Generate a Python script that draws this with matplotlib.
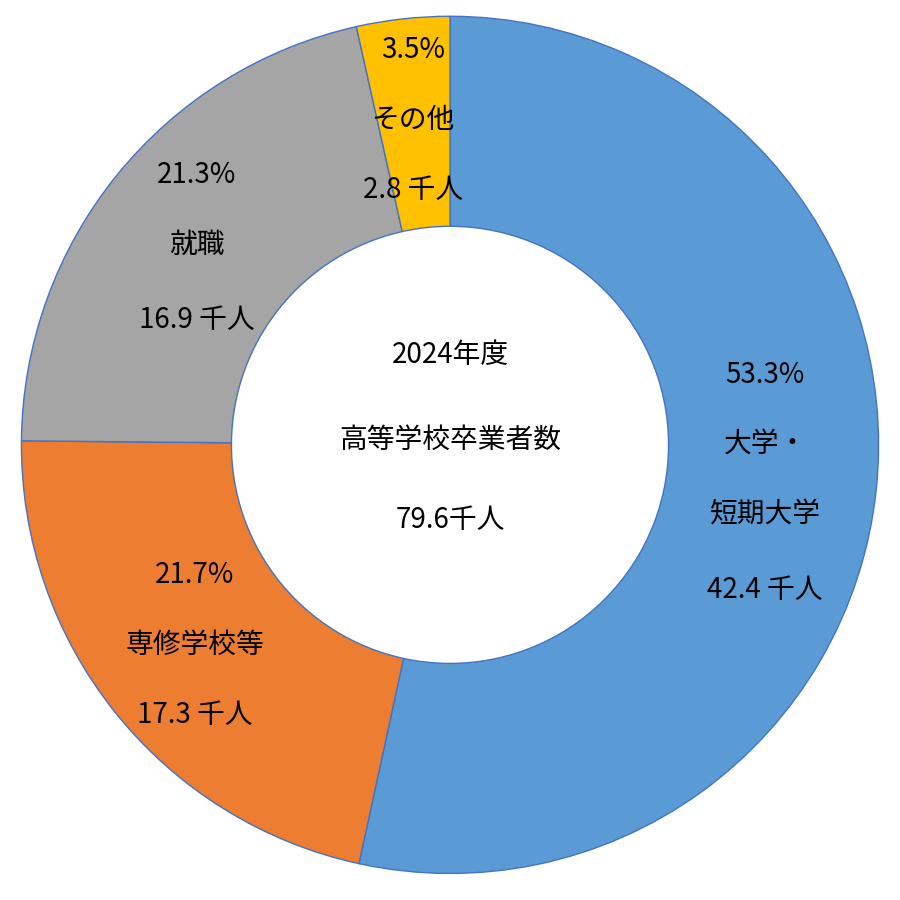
import matplotlib
matplotlib.use("Agg")
import matplotlib.pyplot as plt

plt.rcParams['font.family'] = ['Noto Sans CJK JP', 'DejaVu Sans']

categories = ["大学・\n短期大学", "専修学校等", "就職", "その他"]
percents = [53.3, 21.7, 21.3, 3.5]
people = ["42.4", "17.3", "16.9", "2.8"]
colors = ["#5B9BD5", "#ED7D31", "#A5A5A5", "#FFC000"]
center_lines = ["2024年度", "高等学校卒業者数", "79.6千人"]

fig = plt.figure(figsize=(9, 9), dpi=100)
ax = fig.add_axes([0, 0, 1, 1])
ax.pie(percents, colors=colors, startangle=90, counterclock=False,
       radius=1.0, wedgeprops=dict(width=0.49, edgecolor="#4472C4", linewidth=1))
ax.set_xlim(-1.05, 1.05)
ax.set_ylim(-1.062, 1.038)
ax.set_aspect('equal')
ax.axis('off')

def px(x, y):
    return (x - 450) / 428.6, (445 - y) / 428.6

fs = 20
# label positions (pixel space)
label_pos = [
    (765, [375, 445, 515, 590]),
    (195, [575, 645, 715]),
    (197, [175, 245, 320]),
    (413, [50, 120, 190]),
]
for i, (x, ys) in enumerate(label_pos):
    lines = [f"{percents[i]}%"] + categories[i].split("\n") + [f"{people[i]} 千人"]
    for line, y in zip(lines, ys):
        ax.text(*px(x, y), line, ha='center', va='center', fontsize=fs, color='black')

for line, y in zip(center_lines, [355, 440, 520]):
    ax.text(*px(450, y), line, ha='center', va='center', fontsize=fs, color='black')

fig.savefig("out.png", dpi=100)
